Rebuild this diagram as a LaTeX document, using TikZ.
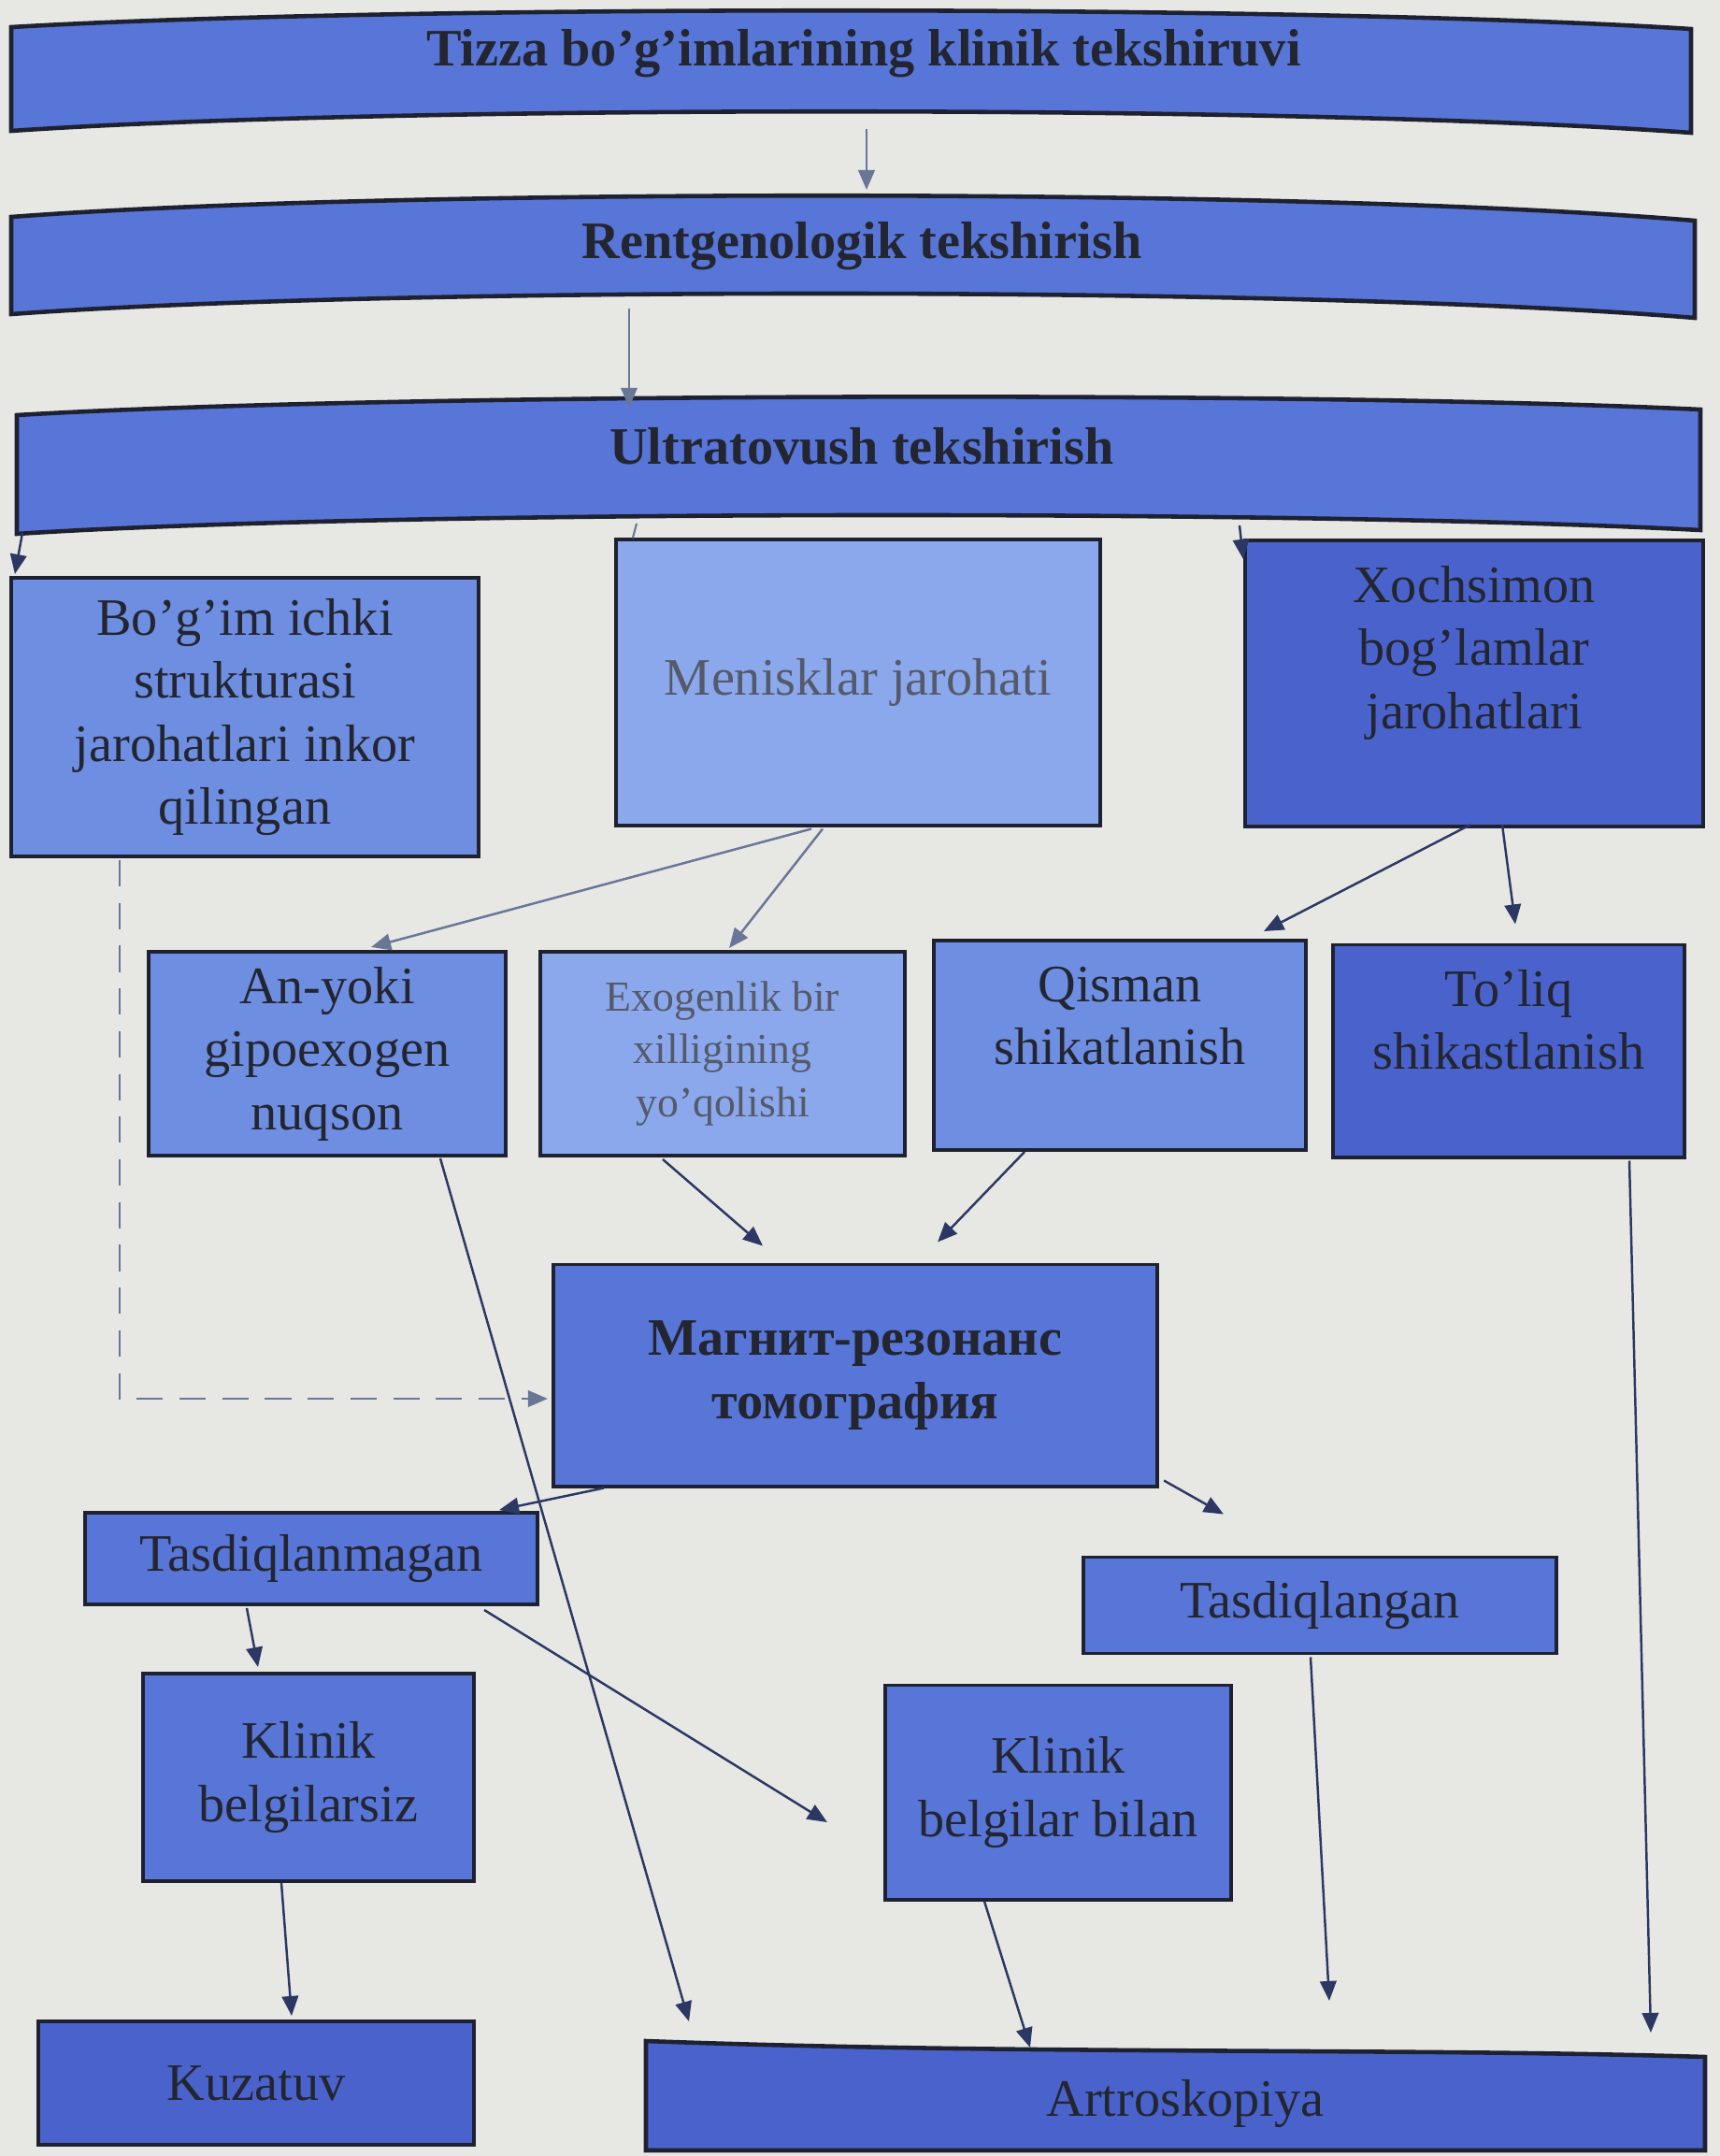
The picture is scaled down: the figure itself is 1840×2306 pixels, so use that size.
\documentclass[tikz,border=0pt]{standalone}
\usepackage{fontspec}
\setmainfont{Liberation Serif}
\usetikzlibrary{arrows.meta,calc}

\definecolor{pagebg}{RGB}{231,232,228}
\definecolor{boxblue}{RGB}{88,117,216}
\definecolor{boxdeep}{RGB}{74,99,204}
\definecolor{boxlight}{RGB}{110,142,226}
\definecolor{boxpale}{RGB}{140,168,236}
\definecolor{edge}{RGB}{30,34,48}
\definecolor{inkdark}{RGB}{35,38,48}
\definecolor{inkgrey}{RGB}{84,90,106}
\definecolor{arrowdark}{RGB}{44,56,100}
\definecolor{arrowgrey}{RGB}{105,118,150}

\tikzset{
  box/.style={draw=edge, line width=1.1pt, fill=boxblue, align=center, inner sep=2pt,
    text=inkdark, font=\fontsize{16}{19.2}\selectfont},
  band/.style={draw=edge, line width=1.3pt, fill=boxblue},
  bandtext/.style={text=inkdark, font=\bfseries\fontsize{16}{19.2}\selectfont},
  flow/.style={->, draw=arrowdark, line width=0.7pt},
  faint/.style={->, draw=arrowgrey, line width=0.7pt},
}

\begin{document}
\begin{tikzpicture}[x=0.01cm,y=-0.01cm,>={Triangle[length=6pt,width=5pt]}]
  \fill[pagebg] (0,0) rectangle (1840,2306);
  \useasboundingbox (0,0) rectangle (1840,2306);

  % curved bands
  \draw[band] (12,29) .. controls (420,5) and (1400,5) .. (1809,31) -- (1809,142)
    .. controls (1400,112) and (420,112) .. (12,140) -- cycle;
  \node[bandtext] (tizza) at (924,57) {Tizza bo’g’imlarining klinik tekshiruvi};
  \draw[band] (12,232) .. controls (420,201) and (1400,201) .. (1813,236) -- (1813,340)
    .. controls (1400,306) and (420,306) .. (12,336) -- cycle;
  \node[bandtext] (rentgen) at (922,263) {Rentgenologik tekshirish};
  \draw[band] (18,444) .. controls (420,420) and (1400,418) .. (1819,438) -- (1819,567)
    .. controls (1400,545) and (420,545) .. (18,571) -- cycle;
  \node[bandtext] (ultra) at (922,477) {Ultratovush tekshirish};
  \draw[band, fill=boxdeep] (691,2183) .. controls (1100,2198) and (1500,2190) .. (1824,2200)
    -- (1824,2300) -- (691,2300) -- cycle;
  \node[text=inkdark, font=\fontsize{16}{19.2}\selectfont] (artro) at (1268,2250) {Artroskopiya};

  % boxes
  \node[box, fill=boxlight, minimum width=5.00cm, minimum height=2.98cm] (bogim) at (262,767)
    {Bo’g’im ichki\\strukturasi\\jarohatlari inkor\\qilingan};
  \node[box, fill=boxpale, text=inkgrey, minimum width=5.18cm, minimum height=3.05cm] (menisk) at (918,730)
    {Menisklar jarohati};
  \node[box, fill=boxdeep, text depth=22pt, minimum width=4.90cm, minimum height=3.06cm] (xoch) at (1577,731)
    {Xochsimon\\bog’lamlar\\jarohatlari};
  \node[box, fill=boxlight, minimum width=3.81cm, minimum height=2.18cm] (anyoki) at (350,1127)
    {An-yoki\\gipoexogen\\nuqson};
  \node[box, fill=boxpale, text=inkgrey, font=\fontsize{13}{16}\selectfont,
    minimum width=3.89cm, minimum height=2.18cm] (exogen) at (773,1127)
    {Exogenlik bir\\xilligining\\yo’qolishi};
  \node[box, fill=boxlight, text depth=18pt, minimum width=3.97cm, minimum height=2.24cm] (qisman) at (1198,1118)
    {Qisman\\shikatlanish};
  \node[box, fill=boxdeep, text depth=19pt, minimum width=3.76cm, minimum height=2.27cm] (toliq) at (1614,1124)
    {To’liq\\shikastlanish};
  \node[box, font=\bfseries\fontsize{16}{19.2}\selectfont, minimum width=6.46cm, minimum height=2.37cm]
    (mrt) at (915,1471) {Магнит-резонанс\\томография};
  \node[box, minimum width=4.84cm, minimum height=0.98cm] (tasdiqmas) at (333,1667) {Tasdiqlanmagan};
  \node[box, minimum width=5.05cm, minimum height=1.03cm] (tasdiq) at (1412,1717) {Tasdiqlangan};
  \node[box, minimum width=3.53cm, minimum height=2.22cm] (belgisiz) at (330,1901)
    {Klinik\\belgilarsiz};
  \node[box, minimum width=3.70cm, minimum height=2.29cm] (belgibilan) at (1132,1917)
    {Klinik\\belgilar bilan};
  \node[box, fill=boxdeep, minimum width=4.65cm, minimum height=1.32cm] (kuzatuv) at (274,2228) {Kuzatuv};

  % connectors
  \draw[faint] ($(tizza)+(3,81)$) -- ($(rentgen)+(5,-60)$);
  \draw[faint, line width=0.5pt] ($(rentgen)+(-249,67)$) -- ($(ultra)+(-249,-41)$);
  \draw[flow] ($(ultra)+(-898,93)$) -- ($(bogim.north west)+(6,-2)$);
  \draw[arrowgrey, line width=0.6pt] ($(ultra)+(-241,83)$) -- ($(menisk.north west)+(20,0)$);
  \draw[flow] ($(ultra)+(404,85)$) -- ($(xoch.north west)+(0,22)$);
  \draw[faint] ($(menisk.south)+(-50,2)$) -- ($(anyoki.north)+(47,-3)$);
  \draw[faint] ($(menisk.south)+(-38,2)$) -- ($(exogen.north)+(7,-2)$);
  \draw[flow] ($(xoch.south)+(-4,-4)$) -- ($(qisman.north)+(154,-8)$);
  \draw[flow] ($(xoch.south)+(30,-4)$) -- ($(toliq.north)+(7,-20)$);
  \draw[flow] ($(exogen.south)+(-64,2)$) -- ($(mrt.north)+(-99,-18)$);
  \draw[flow] ($(qisman.south)+(-102,0)$) -- ($(mrt.north)+(88,-22)$);
  \draw[faint, dashed, dash pattern=on 8pt off 5pt] ($(bogim.south)+(-134,2)$) |- ($(mrt.west)+(-4,25)$);
  \draw[flow] ($(anyoki.south)+(121,1)$) -- ($(artro)+(-531,-88)$);
  \draw[flow] ($(toliq.south)+(129,2)$) -- ($(artro)+(498,-76)$);
  \draw[flow] ($(mrt.south)+(-269,0)$) -- ($(tasdiqmas.north)+(201,-1)$);
  \draw[flow] ($(mrt.south east)+(5,-8)$) -- ($(tasdiq.north)+(-103,-44)$);
  \draw[flow] ($(tasdiqmas.south)+(-69,2)$) -- ($(belgisiz.north)+(-54,-5)$);
  \draw[flow] ($(tasdiqmas.south)+(185,4)$) -- ($(belgibilan.west)+(-60,32)$);
  \draw[flow] ($(belgisiz.south)+(-29,0)$) -- ($(kuzatuv.north)+(38,-4)$);
  \draw[flow] ($(belgibilan.south)+(-79,0)$) -- ($(artro)+(-166,-60)$);
  \draw[flow] ($(tasdiq.south)+(-10,2)$) -- ($(artro)+(154,-110)$);
\end{tikzpicture}
\end{document}
